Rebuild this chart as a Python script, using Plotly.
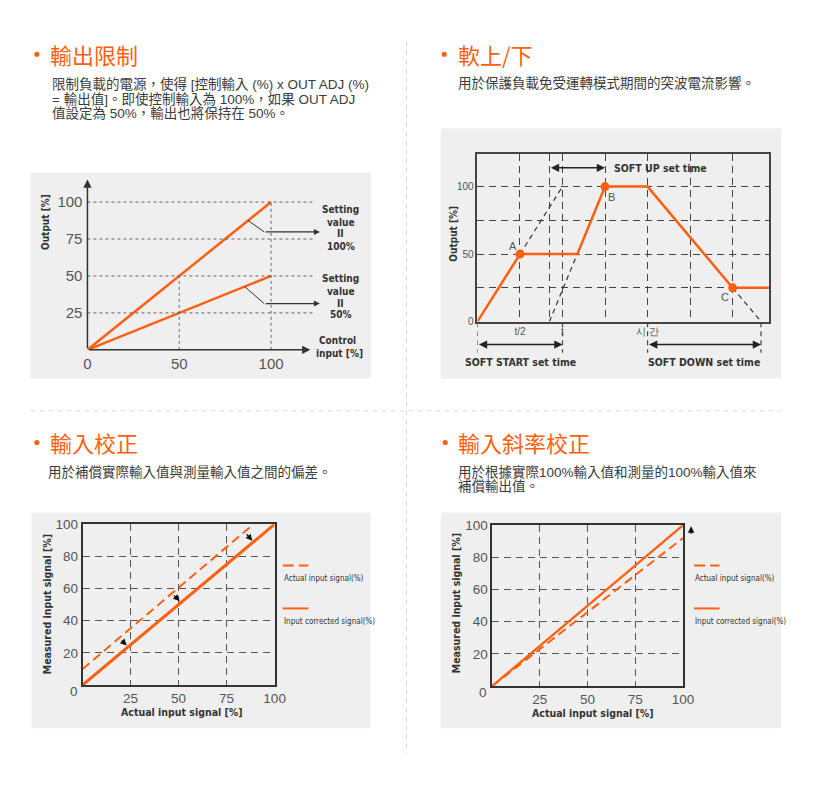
import plotly.graph_objects as go

W, H = 816, 809
ORANGE = "#ff5f0f"
GRAYBOX = "#efefef"
DARK = "#333333"
TICK = "#555555"
TXT = "#3c3c3c"
CJK = "Liberation Sans, Noto Sans CJK TC, Noto Sans CJK SC, sans-serif"
HEAD = "Noto Sans CJK TC, Noto Sans CJK SC, sans-serif"
NARROW = "Liberation Sans Narrow, Arial Narrow, DejaVu Sans Condensed, sans-serif"
NUM = "Liberation Sans, Arial, sans-serif"


def fx(p):
    return p / W


def fy(p):
    return 1 - p / H


# ---------------- data ----------------
headings = ["輸出限制", "軟上/下", "輸入校正", "輸入斜率校正"]
desc1 = ["限制負載的電源，使得 [控制輸入 (%) x OUT ADJ (%)",
         "= 輸出值]。即使控制輸入為 100%，如果 OUT ADJ",
         "值設定為 50%，輸出也將保持在 50%。"]
desc2 = ["用於保護負載免受運轉模式期間的突波電流影響。"]
desc3 = ["用於補償實際輸入值與測量輸入值之間的偏差。"]
desc4 = ["用於根據實際100%輸入值和測量的100%輸入值來", "補償輸出值。"]

# panel 1 : output limit
p1_input = [0, 100]
p1_out_100 = [0, 100]
p1_out_50 = [0, 50]
p1_xticks = [0, 50, 100]
p1_yticks = [25, 50, 75, 100]
p1_setting_labels = [["Setting", "value", "II", "100%"], ["Setting", "value", "II", "50%"]]

# panel 2 : soft up / down
p2_time = [0, 1, 2.35, 3, 4, 6, 6.854]
p2_output = [0, 50, 50, 100, 100, 25, 25]
p2_pt_x = [1, 3, 6]
p2_pt_y = [50, 100, 25]
p2_pt_lbl = ["A", "B", "C"]
p2_guide_x = [[1, 2], [1.692, 3], [6, 6.667]]
p2_guide_y = [[50, 100], [0, 100], [25, 0]]
p2_xgrid = [1, 1.692, 2, 3, 4, 5, 6]
p2_xgrid_txt = ["t/2", "", "t", "", "시 간", "", ""]
p2_ygrid = [0, 25, 50, 75, 100]
p2_ygrid_txt = ["0", "", "50", "", "100"]

# panel 3 : input correction
p3_actual_x = [0, 89]
p3_actual_y = [10, 100]
p3_corr_x = [0, 100]
p3_corr_y = [0, 100]
p3_arrow_tail = [(19.6, 28.7), (46.8, 56.7), (84.7, 94.8)]
p3_arrow_tip = [(23.0, 24.6), (50.6, 52.2), (88.4, 89.7)]

# panel 4 : input slope correction
p4_actual_x = [0, 100]
p4_actual_y = [0, 92]
p4_corr_x = [0, 100]
p4_corr_y = [0, 100]

xticks_34 = [25, 50, 75, 100]
yticks_34 = [20, 40, 60, 80, 100]
legend_labels = ["Actual input signal(%)", "Input corrected signal(%)"]

fig = go.Figure()

# ---------------- traces ----------------
fig.add_trace(go.Scatter(x=p1_input, y=p1_out_100, xaxis="x", yaxis="y", mode="lines",
                         line=dict(color=ORANGE, width=2.5), hoverinfo="skip"))
fig.add_trace(go.Scatter(x=p1_input, y=p1_out_50, xaxis="x", yaxis="y", mode="lines",
                         line=dict(color=ORANGE, width=2.5), hoverinfo="skip"))
for (xa, ya), (xb, yb) in [((87.5, 87.5), (96.3, 79.8)), ((85.6, 42.8), (96.3, 31.3))]:
    fig.add_trace(go.Scatter(x=[xa, xb], y=[ya, yb], xaxis="x", yaxis="y", mode="lines",
                             line=dict(color=DARK, width=1), hoverinfo="skip"))

for gx, gy in zip(p2_guide_x, p2_guide_y):
    fig.add_trace(go.Scatter(x=gx, y=gy, xaxis="x2", yaxis="y2", mode="lines",
                             line=dict(color=DARK, width=1.2, dash="5px,4px"), hoverinfo="skip"))
fig.add_trace(go.Scatter(x=p2_time, y=p2_output, xaxis="x2", yaxis="y2", mode="lines",
                         line=dict(color=ORANGE, width=2.5), hoverinfo="skip"))
fig.add_trace(go.Scatter(x=p2_pt_x, y=p2_pt_y, xaxis="x2", yaxis="y2", mode="markers",
                         marker=dict(color=ORANGE, size=9), cliponaxis=False, hoverinfo="skip"))

fig.add_trace(go.Scatter(x=p3_actual_x, y=p3_actual_y, xaxis="x3", yaxis="y3", mode="lines",
                         line=dict(color=ORANGE, width=2, dash="9px,5px"), hoverinfo="skip"))
fig.add_trace(go.Scatter(x=p3_corr_x, y=p3_corr_y, xaxis="x3", yaxis="y3", mode="lines",
                         line=dict(color=ORANGE, width=3), hoverinfo="skip"))
fig.add_trace(go.Scatter(x=p4_actual_x, y=p4_actual_y, xaxis="x4", yaxis="y4", mode="lines",
                         line=dict(color=ORANGE, width=2, dash="9px,5px"), hoverinfo="skip"))
fig.add_trace(go.Scatter(x=p4_corr_x, y=p4_corr_y, xaxis="x4", yaxis="y4", mode="lines",
                         line=dict(color=ORANGE, width=2.2), hoverinfo="skip"))

shapes = []
ann = []

# ---------------- backgrounds and dividers ----------------
for (l, t, r, b) in [(27, 168, 374, 377), (445, 123, 792, 377), (28, 513, 373, 732), (445, 513, 792, 732)]:
    shapes.append(dict(type="rect", xref="paper", yref="paper", x0=fx(l), x1=fx(r), y0=fy(b), y1=fy(t),
                       fillcolor=GRAYBOX, line=dict(width=0), layer="below"))
shapes.append(dict(type="line", xref="paper", yref="paper", x0=fx(410), x1=fx(410), y0=fy(35), y1=fy(758),
                   line=dict(color="#d8d8d8", width=1, dash="5px,4px"), layer="below"))
shapes.append(dict(type="line", xref="paper", yref="paper", x0=fx(27), x1=fx(790), y0=fy(410), y1=fy(410),
                   line=dict(color="#d8d8d8", width=1, dash="5px,4px"), layer="below"))

# ---------------- headings and descriptions ----------------
head_pos = [(33.5, 45, 48), (448.5, 460, 48), (33.5, 45, 442), (449.5, 460, 442)]
desc_pos = [(47, 78.3, 15), (460.5, 76.7, 15), (43, 471.7, 15), (460.5, 471.7, 15)]
for i, (title, lines) in enumerate(zip(headings, [desc1, desc2, desc3, desc4])):
    bx, hx, hy = head_pos[i]
    shapes.append(dict(type="circle", xref="paper", yref="paper", x0=fx(bx - 2.6), x1=fx(bx + 2.6),
                       y0=fy(hy + 2.6), y1=fy(hy - 2.6), fillcolor=ORANGE, line=dict(width=0)))
    ann.append(dict(xref="paper", yref="paper", x=fx(hx), y=fy(hy), text=title, showarrow=False,
                    xanchor="left", yanchor="middle", font=dict(family=HEAD, size=22, color=ORANGE)))
    dx0, dy0, step = desc_pos[i]
    for k, line in enumerate(lines):
        ann.append(dict(xref="paper", yref="paper", x=fx(dx0), y=fy(dy0 + k * step), text=line,
                        showarrow=False, xanchor="left", yanchor="middle",
                        font=dict(family=CJK, size=13.5, color=TXT)))

# ---------------- panel 1 decorations ----------------
for yv in p1_yticks:
    shapes.append(dict(type="line", xref="x", yref="y", x0=0, x1=123, y0=yv, y1=yv,
                       line=dict(color="#666666", width=1, dash="3px,3px")))
for xv, top in [(50, 50), (100, 100)]:
    shapes.append(dict(type="line", xref="x", yref="y", x0=xv, x1=xv, y0=0, y1=top,
                       line=dict(color="#666666", width=1, dash="3px,3px")))
ann.append(dict(xref="x", yref="y", x=0, y=115.3, ax=0, ay=0, axref="x", ayref="y", text="",
                showarrow=True, arrowhead=2, arrowsize=1.1, arrowwidth=1.5, arrowcolor=DARK))
ann.append(dict(xref="x", yref="y", x=121.4, y=0, ax=0, ay=0, axref="x", ayref="y", text="",
                showarrow=True, arrowhead=2, arrowsize=1.1, arrowwidth=1.5, arrowcolor=DARK))
for yv in [79.8, 31.3]:
    ann.append(dict(xref="x", yref="y", x=126.6, y=yv, ax=96.3, ay=yv, axref="x", ayref="y", text="",
                    showarrow=True, arrowhead=2, arrowsize=1, arrowwidth=1.2, arrowcolor=DARK))
for lines, ys in zip(p1_setting_labels, [[205.7, 218.3, 230.3, 242.7], [276, 288.3, 300.5, 312.3]]):
    for t, yy in zip(lines, ys):
        ann.append(dict(xref="paper", yref="paper", x=fx(343), y=fy(yy), text="<b>%s</b>" % t,
                        showarrow=False, xanchor="center", yanchor="middle",
                        font=dict(family=NARROW, size=10, color=DARK)))
for t, xx, yy in [("Control", 340, 339), ("input [%]", 341.5, 351.5)]:
    ann.append(dict(xref="paper", yref="paper", x=fx(xx), y=fy(yy), text="<b>%s</b>" % t,
                    showarrow=False, xanchor="center", yanchor="middle",
                    font=dict(family=NARROW, size=10, color=DARK)))
ann.append(dict(xref="paper", yref="paper", x=fx(43), y=fy(218), text="<b>Output [%]</b>", textangle=-90,
                showarrow=False, xanchor="center", yanchor="middle",
                font=dict(family=NARROW, size=10, color=DARK)))

# ---------------- panel 2 decorations ----------------
for xv in [0, 2, 4, 6.667]:
    shapes.append(dict(type="line", xref="x2", yref="paper", x0=xv, x1=xv, y0=fy(320), y1=fy(351),
                       line=dict(color="#444444", width=1.2, dash="5px,4px")))
ann.append(dict(xref="x2", yref="y2", x=3, y=113.9, ax=1.692, ay=113.9, axref="x2", ayref="y2", text="",
                showarrow=True, arrowhead=2, arrowside="end+start", arrowsize=1.1, arrowwidth=1.5,
                arrowcolor="#222222"))
for x0, x1 in [(0, 2), (4, 6.667)]:
    ann.append(dict(xref="x2", yref="paper", x=x1, y=fy(342.7), ax=x0, ay=0, axref="x2", ayref="pixel",
                    text="", showarrow=True, arrowhead=2, arrowside="end+start", arrowsize=1.1,
                    arrowwidth=1.5, arrowcolor="#222222"))
ann.append(dict(xref="x2", yref="y2", x=3.16, y=113.9, text="<b>SOFT UP set time</b>", showarrow=False,
                xanchor="left", yanchor="middle", font=dict(family=NARROW, size=10.5, color=DARK)))
for t, xx in [("SOFT START set time", 526.5), ("SOFT DOWN set time", 713.5)]:
    ann.append(dict(xref="paper", yref="paper", x=fx(xx), y=fy(360), text="<b>%s</b>" % t,
                    showarrow=False, xanchor="center", yanchor="middle",
                    font=dict(family=NARROW, size=10.5, color=DARK)))
ann.append(dict(xref="paper", yref="paper", x=fx(458.5), y=fy(230), text="<b>Output [%]</b>", textangle=-90,
                showarrow=False, xanchor="center", yanchor="middle",
                font=dict(family=NARROW, size=10, color=DARK)))
for lbl, xx, yy in zip(p2_pt_lbl, [0.83, 3.16, 5.82], [55.9, 92, 18.2]):
    ann.append(dict(xref="x2", yref="y2", x=xx, y=yy, text=lbl, showarrow=False,
                    xanchor="center", yanchor="middle", font=dict(family=NUM, size=11, color=TICK)))

# ---------------- panel 3 / 4 decorations ----------------
for (tx, ty), (hx, hy) in zip(p3_arrow_tail, p3_arrow_tip):
    ann.append(dict(xref="x3", yref="y3", x=hx, y=hy, ax=tx, ay=ty, axref="x3", ayref="y3", text="",
                    showarrow=True, arrowhead=2, arrowsize=1, arrowwidth=1.3, arrowcolor="#111111"))
ann.append(dict(xref="paper", yref="paper", x=fx(700), y=fy(527), ax=0, ay=9, text="",
                showarrow=True, arrowhead=2, arrowsize=1, arrowwidth=1.3, arrowcolor="#111111"))

for (zx, zy, tx, ty, yx, yy, lx) in [(71.7, 695, 181.7, 715.5, 43.5, 606.5, 283),
                                     (488.3, 696, 600, 716.5, 460.7, 605, 702)]:
    ann.append(dict(xref="paper", yref="paper", x=fx(zx), y=fy(zy), text="0", showarrow=False,
                    xanchor="center", yanchor="middle", font=dict(family=NUM, size=13.5, color=TICK)))
    ann.append(dict(xref="paper", yref="paper", x=fx(tx), y=fy(ty), text="<b>Actual input signal [%]</b>",
                    showarrow=False, xanchor="center", yanchor="middle",
                    font=dict(family=NARROW, size=10.5, color=DARK)))
    ann.append(dict(xref="paper", yref="paper", x=fx(yx), y=fy(yy), text="<b>Measured input signal [%]</b>",
                    textangle=-90, showarrow=False, xanchor="center", yanchor="middle",
                    font=dict(family=NARROW, size=10.5, color=DARK)))
    for k, (lbl, dash) in enumerate(zip(legend_labels, ["11px,5px", "solid"])):
        ly = 567 + k * 43.5
        shapes.append(dict(type="line", xref="paper", yref="paper", x0=fx(lx + 1), x1=fx(lx + 27),
                           y0=fy(ly), y1=fy(ly), line=dict(color=ORANGE, width=2, dash=dash)))
        ann.append(dict(xref="paper", yref="paper", x=fx(lx), y=fy(ly + 13), text=lbl, showarrow=False,
                        xanchor="left", yanchor="middle", font=dict(family=NARROW, size=8, color=DARK)))

# ---------------- axes ----------------
hidden = dict(showgrid=False, zeroline=False, showline=False, ticks="", fixedrange=True)
box_axis = dict(showline=True, mirror=True, linecolor="#333333", linewidth=1.5, zeroline=False,
                showgrid=True, gridcolor="#555555", gridwidth=1.2, griddash="7px,5px", ticks="",
                fixedrange=True, tickfont=dict(family=NUM, size=13.5, color=TICK))

fig.update_layout(
    width=W, height=H, margin=dict(l=0, r=0, t=0, b=0),
    paper_bgcolor="white", plot_bgcolor="rgba(0,0,0,0)", showlegend=False,
    xaxis=dict(domain=[fx(85), fx(374)], range=[0, 154.5], tickvals=p1_xticks, anchor="y",
               tickfont=dict(family=NUM, size=15, color=TICK), ticklabelstandoff=3, **hidden),
    yaxis=dict(domain=[fy(348), fy(168)], range=[0, 120], tickvals=p1_yticks, anchor="x",
               tickfont=dict(family=NUM, size=15, color=TICK), ticklabelstandoff=4, **hidden),
    xaxis2=dict(domain=[fx(482.3), fx(779.3)], range=[0, 6.854], tickvals=p2_xgrid, ticktext=p2_xgrid_txt,
                anchor="y2", showline=True, mirror=True, linecolor="#444444", linewidth=1.5,
                showgrid=True, gridcolor="#444444", gridwidth=1.2, griddash="7px,5px", zeroline=False,
                ticks="", fixedrange=True, tickfont=dict(family=NUM, size=10, color=TICK)),
    yaxis2=dict(domain=[fy(319.3), fy(149.3)], range=[0, 124.1], tickvals=p2_ygrid, ticktext=p2_ygrid_txt,
                anchor="x2", showline=True, mirror=True, linecolor="#444444", linewidth=1.5,
                showgrid=True, gridcolor="#444444", gridwidth=1.2, griddash="7px,5px", zeroline=False,
                ticks="", fixedrange=True, tickfont=dict(family=NUM, size=10, color=TICK)),
    xaxis3=dict(domain=[fx(80), fx(275.7)], range=[0, 100], tickvals=xticks_34, anchor="y3", **box_axis),
    yaxis3=dict(domain=[fy(688.3), fy(525)], range=[0, 100], tickvals=yticks_34, anchor="x3", **box_axis),
    xaxis4=dict(domain=[fx(497.3), fx(691.7)], range=[0, 100], tickvals=xticks_34, anchor="y4", **box_axis),
    yaxis4=dict(domain=[fy(689.3), fy(526)], range=[0, 100], tickvals=yticks_34, anchor="x4", **box_axis),
    shapes=shapes, annotations=ann,
)

fig.write_html("out.html")
